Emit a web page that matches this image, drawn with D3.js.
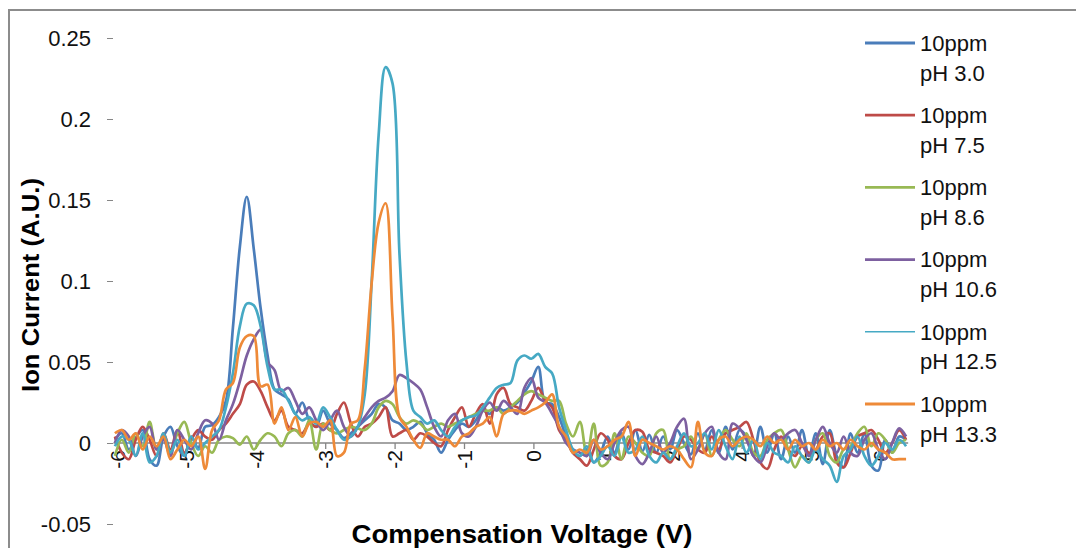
<!DOCTYPE html>
<html><head><meta charset="utf-8">
<script src="https://cdn.jsdelivr.net/npm/d3@7"></script>
<style>html,body{margin:0;padding:0;background:#fff;} svg{display:block;}</style>
</head><body><svg id="c" width="1076" height="548"></svg>
<script>
// ---- data ----
const cvStart = -6.03, cvStep = 0.1;            // sampling grid of the traces (axis units)
const xTickPos = [-6, -5, -4, -3, -2, -1, 0, 1, 2, 3, 4, 5];
const xTickLabels = ["-6", "-5", "-4", "-3", "-2", "-1", "0", "1", "2", "4", "5", "6"];
const yTicks = [-0.05, 0, 0.05, 0.1, 0.15, 0.2, 0.25];
const yTickLabels = ["-0.05", "0", "0.05", "0.1", "0.15", "0.2", "0.25"];
const legendLine1 = ["10ppm", "10ppm", "10ppm", "10ppm", "10ppm", "10ppm"];
const legendLine2 = ["pH 3.0", "pH 7.5", "pH 8.6", "pH 10.6", "pH 12.5", "pH 13.3"];
const colors = ["#4A7DBA", "#BE4B48", "#98B954", "#7D60A0", "#46A9C4", "#EE8A38"];

const pH3_0 = [.002,.006,-.004,.003,.008,-.010,-.014,.004,.010,-.002,
 -.008,.004,-.003,.010,.011,.016,.026,.071,.121,.152,
 .120,.083,.054,.033,.030,.027,.018,.025,.014,.010,
 .020,.012,.008,.003,.006,.010,.014,.018,.024,.022,
 .014,.012,.008,.010,.013,.006,.002,-.006,.002,.008,
 .012,.010,.014,.020,.018,.022,.020,.022,.025,.031,
 .038,.047,.025,.024,.016,.004,-.006,-.008,-.004,-.012,
 -.006,.004,-.006,.006,-.004,.008,-.005,.005,-.006,.004,
 -.004,.008,.000,-.007,.006,-.004,.008,-.006,.010,-.004,
 .008,.004,-.008,.010,-.006,.006,-.010,.004,-.006,.008,
 -.008,.006,-.013,.008,-.008,-.015,.006,-.006,.006,-.014,
 -.017,.002,-.006,.004,.002];
const pH7_5 = [.004,-.006,-.010,.002,.010,.002,-.008,.006,-.004,.008,
 -.006,.002,.008,.004,.002,.008,.012,.018,.024,.036,
 .038,.032,.022,.014,.020,.010,.008,.006,.012,.010,
 .012,.008,.018,.025,.012,.004,.010,.012,.016,.022,
 .004,.006,.008,.002,.006,.004,.000,-.002,.008,.016,
 .022,.010,.018,.024,.012,.030,.034,.024,.022,.020,
 .026,.034,.026,.022,.008,.002,-.006,-.010,-.014,-.004,
 .006,.002,-.008,-.010,.000,.008,.007,-.004,-.006,-.008,
 -.012,-.004,.004,.002,-.004,-.006,.004,-.004,.006,.008,
 .010,.013,.002,-.012,-.016,-.004,.004,-.004,-.008,-.002,
 -.006,-.004,.004,.006,-.012,-.015,-.006,.004,.006,.008,
 .002,-.006,.000,.008,.002];
const pH8_6 = [-.008,.002,-.006,.006,-.002,.013,-.004,.004,-.006,.006,
 .013,.000,-.008,-.002,-.006,.002,.004,.003,-.001,.004,
 -.004,.002,.006,.004,-.002,.006,.008,.004,.014,-.004,
 .012,.008,.006,.008,.010,.009,.008,.012,.022,.026,
 .024,.016,.012,.014,.012,.008,.010,.012,.010,.012,
 .014,.016,.018,.020,.020,.022,.018,.022,.026,.030,
 .032,.030,.028,.026,.026,.012,.004,.013,-.008,.012,
 -.014,-.012,.006,-.010,.004,.000,-.006,-.008,.006,.008,
 -.010,-.004,-.002,.004,-.004,.006,-.008,.002,.008,.002,
 -.002,.006,-.006,-.008,.002,.006,.008,-.004,-.015,-.008,
 -.012,.002,.006,-.008,-.012,-.004,-.002,.006,.010,-.002,
 .006,.002,-.006,.000,.002];
const pH10_6 = [.000,.008,.004,-.008,.004,.010,-.004,.002,-.008,.008,
 .002,-.004,.006,.014,.012,.002,.014,.024,.038,.054,
 .064,.070,.050,.045,.032,.034,.026,.018,.022,.014,
 .008,.014,.020,.010,.004,.010,.016,.022,.026,.028,
 .032,.042,.040,.037,.033,.022,.010,.004,.014,.018,
 .006,.004,.010,.020,.025,.020,.026,.022,.018,.034,
 .040,.028,.025,.018,.010,.000,-.004,-.006,-.008,.002,
 -.006,-.010,.000,.008,.010,-.008,-.013,-.006,.004,-.006,
 .000,.010,.015,-.010,-.004,.006,.010,-.006,-.010,.012,
 .009,.002,-.008,-.012,-.002,.006,.002,.006,.008,.000,
 -.008,.002,.010,.000,-.006,.004,-.006,-.008,.002,.006,
 -.004,-.010,.000,.009,.004];
const pH12_5 = [-.002,.004,.002,-.008,.006,-.012,-.008,.006,-.006,.002,
 -.008,.004,-.004,.000,.004,.008,.022,.043,.072,.086,
 .085,.072,.047,.033,.033,.026,.018,.014,.016,.012,
 .022,.016,.008,.002,.004,.010,.030,.100,.190,.232,
 .222,.117,.050,.020,.016,.012,.014,.008,.004,.010,
 .014,.016,.017,.022,.028,.034,.036,.037,.051,.054,
 .052,.055,.047,.043,.022,.008,-.004,-.008,-.002,-.012,
 -.008,-.002,-.008,.004,-.006,-.004,.004,-.008,-.012,-.006,
 -.010,-.002,.006,-.002,.000,.006,-.004,.008,-.002,-.010,
 .004,-.006,.002,-.010,.000,-.006,-.008,-.012,-.002,-.008,
 -.012,-.004,-.010,-.014,-.024,-.008,-.004,.004,-.008,-.014,
 -.008,.000,-.004,.002,-.002];
const pH13_3 = [.006,.008,.002,.006,-.004,.004,-.002,.004,-.010,-.004,
 .002,-.002,.004,-.016,.008,.014,.033,.037,.059,.066,
 .066,.035,.036,.012,.022,.008,.016,.004,.012,.013,
 .010,.014,-.008,-.006,.012,.014,.046,.099,.136,.148,
 .078,.016,.010,.002,-.003,.006,.004,.002,.002,-.002,
 .004,.006,.010,.012,.016,.004,.018,.020,.020,.018,
 .020,.022,.025,.030,.010,.004,-.006,-.004,-.006,.002,
 -.004,-.002,.002,.004,.013,-.008,.002,.000,-.002,-.004,
 -.002,-.004,-.010,-.015,.013,-.006,-.008,.002,.004,-.002,
 .002,.004,.002,-.002,.004,.000,.002,-.004,.002,-.002,
 .000,-.004,.002,-.002,.000,-.004,.002,-.002,-.004,.000,
 -.004,-.006,-.010,-.010,-.010];
const seriesValues = [pH3_0, pH7_5, pH8_6, pH10_6, pH12_5, pH13_3];

// ---- drawing ----
const FONT = "'Liberation Sans', Arial, sans-serif";
const svg = d3.select("#c");
const x = d3.scaleLinear().domain([-6, 5]).range([117, 880.4]);
const y = d3.scaleLinear().domain([-0.05, 0.25]).range([524, 38]);

svg.append("rect").attr("x", 9).attr("y", 10).attr("width", 1100).attr("height", 600)
  .attr("fill", "none").attr("stroke", "#8c8c8c").attr("stroke-width", 2);

// y axis (ticks + labels only)
const gy = svg.append("g").attr("transform", "translate(113,0)")
  .call(d3.axisLeft(y).tickValues(yTicks).tickSize(6).tickPadding(16)
    .tickFormat(d => yTickLabels[yTicks.indexOf(d)]));
gy.select(".domain").remove();
gy.selectAll(".tick line").attr("stroke", "#868686");
gy.selectAll(".tick text").attr("font-size", 22).attr("font-family", FONT).attr("fill", "#111");

// x axis line at zero
svg.append("line")
  .attr("x1", x(cvStart - 0.02)).attr("x2", x(cvStart + (pH3_0.length - 1) * cvStep + 0.03))
  .attr("y1", y(0)).attr("y2", y(0)).attr("stroke", "#868686").attr("stroke-width", 1.3);

const gx = svg.append("g").attr("transform", `translate(0,${y(0)})`)
  .call(d3.axisBottom(x).tickValues(xTickPos).tickSize(6)
    .tickFormat(d => xTickLabels[xTickPos.indexOf(d)]));
gx.select(".domain").remove();
gx.selectAll(".tick line").attr("stroke", "#868686").attr("stroke-width", 1.3);
gx.selectAll(".tick text")
  .attr("transform", "rotate(-90)").attr("text-anchor", "end")
  .attr("x", -7).attr("y", 0).attr("dy", "0.35em")
  .attr("font-size", 21).attr("font-family", FONT).attr("fill", "#111");

// series
const line = d3.line()
  .x((d, i) => x(cvStart + i * cvStep))
  .y(d => y(d))
  .curve(d3.curveCatmullRom.alpha(0.5));
svg.append("g").selectAll("path").data(seriesValues).join("path")
  .attr("d", line).attr("fill", "none")
  .attr("stroke", (d, i) => colors[i]).attr("stroke-width", 2.7)
  .attr("stroke-linejoin", "round");

// legend
const lg = svg.append("g").selectAll("g").data(legendLine2).join("g")
  .attr("transform", (d, i) => `translate(0,${43 + i * 72.2})`);
lg.append("line").attr("x1", 865).attr("x2", 915).attr("y1", 0).attr("y2", 0)
  .attr("stroke", (d, i) => colors[i]).attr("stroke-width", (d, i) => i === 4 ? 1.5 : 2.8);
lg.append("text").attr("x", 920).attr("y", 0).attr("dy", "0.35em")
  .attr("font-size", 22).attr("font-family", FONT).attr("fill", "#111")
  .text((d, i) => legendLine1[i]);
lg.append("text").attr("x", 920).attr("y", 30).attr("dy", "0.35em")
  .attr("font-size", 22).attr("font-family", FONT).attr("fill", "#111")
  .text(d => d);

// axis titles
svg.append("text").attr("transform", "translate(39,285) rotate(-90)")
  .attr("text-anchor", "middle").attr("font-size", 23).attr("font-weight", "bold")
  .attr("textLength", 214).attr("lengthAdjust", "spacingAndGlyphs")
  .attr("font-family", FONT).attr("fill", "#000").text("Ion Current (A.U.)");
svg.append("text").attr("x", 522).attr("y", 543)
  .attr("text-anchor", "middle").attr("font-size", 25).attr("font-weight", "bold")
  .attr("textLength", 341).attr("lengthAdjust", "spacingAndGlyphs")
  .attr("font-family", FONT).attr("fill", "#000").text("Compensation Voltage (V)");
</script></body></html>
